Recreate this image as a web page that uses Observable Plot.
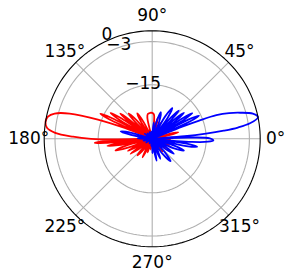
<!DOCTYPE html>
<html>
<head>
<meta charset="utf-8">
<script src="https://cdn.jsdelivr.net/npm/d3@7"></script>
<script src="https://cdn.jsdelivr.net/npm/@observablehq/plot@0.6"></script>
<style>
  html, body { margin: 0; padding: 0; background: #fff; }
  #chart svg { display: block; }
</style>
</head>
<body>
<div id="chart"></div>
<script>
// ---- data: [angle in degrees, level in dB] ----
const redPattern = [
  [0,-40],[2.5,-29],[4.5,-26],[6.5,-29],[9,-40],
  [11.8,-25.5],[14,-22.5],[16.2,-25.5],[20,-40],
  [23,-28],[26,-25],[29,-28],[32,-40],
  [35,-28.5],[37.5,-25.5],[40,-28.5],[43,-40],
  [46.5,-28.5],[49.5,-25.5],[52.5,-28.5],[56,-40],
  [59,-28],[62,-25],[65,-28],[68,-40],
  [71.5,-27],[75,-24],[78.5,-27],[82,-40],
  [84,-25],[86,-23.2],[90,-22.8],[95,-22.8],[100,-23],[103,-24],[106,-40],
  [108.5,-29.5],[110,-27.5],[111.5,-29.5],[114,-40],
  [117.2,-24.8],[120.5,-21.8],[123.8,-24.8],[127,-40],
  [129.9,-23.4],[133,-20.4],[135.6,-23.4],[138.5,-40],
  [140.1,-21.7],[141.7,-18.7],[143.4,-21.7],[145,-40],
  [146.6,-19.4],[148.3,-16.4],[149.9,-19.4],[151.5,-40],
  [152.9,-17],[154.2,-14],[155.6,-17],[157,-40],
  [158.5,-22],[160.5,-14],[163,-6],[165.5,-2],[168,-0.4],[171,0],[174,-0.6],[176.5,-3],[178.5,-8],[180,-13],[181,-19],[182,-40],
  [183,-17],[184,-14],[185,-17],[186,-40],
  [187.5,-20.4],[189,-17.4],[190.5,-20.4],[192,-40],
  [194.6,-22.3],[197.5,-19.3],[199.9,-22.3],[202.5,-40],
  [204.4,-25.5],[206.3,-22.5],[208.1,-25.5],[210,-40],
  [212.5,-25.7],[214.5,-22.7],[217.5,-25.7],[220,-40],
  [224,-26.8],[228.5,-23.8],[232,-26.8],[236,-40],
  [239,-27.2],[242.5,-24.2],[245,-27.2],[248,-40],
  [250,-29],[251.5,-26],[254,-29],[256,-40],
  [259,-29.5],[262,-27],[265,-29.5],[268,-40],
  [276,-40],[278.5,-29.5],[281,-26.5],[283.5,-29.5],[286,-40],
  [289.5,-29.5],[293,-26.5],[296.5,-29.5],[300,-40],
  [304.5,-28.5],[309,-25.5],[313.5,-28.5],[318,-40],
  [321.8,-28.5],[325.5,-25.5],[329.2,-28.5],[333,-40],
  [336.2,-28],[339.5,-25],[342.8,-28],[346,-40],
  [348,-27],[350,-24],[352,-27],[354,-40],
  [355.5,-28],[357,-25],[358.5,-28],[360,-40]
];

const bluePattern = [
  [-6,-40],[-4.5,-19],[-3,-14.5],[-1.5,-13],[0.5,-14],[2,-20],[3.5,-40],
  [4.5,-21],[5.5,-15],[6.5,-10],[7.5,-6],[9,-2.5],[11.5,0],[14,-1.2],[16.5,-4.5],[18.5,-7.5],[20.2,-11],[21.2,-16],[22,-21],[23,-40],
  [24.6,-18.5],[26.3,-15.5],[27.9,-18.5],[29.5,-40],
  [31,-19.8],[32.4,-16.8],[34,-19.8],[35.5,-40],
  [37.4,-21.6],[39.4,-18.6],[41.1,-21.6],[43,-40],
  [44.9,-22.2],[46.7,-19.2],[48.6,-22.2],[50.5,-40],
  [53.6,-22.8],[56.8,-19.8],[59.9,-22.8],[63,-40],
  [67.3,-25.2],[72.3,-22.2],[75.8,-25.2],[80,-40],
  [82.2,-28.5],[84.5,-25.5],[86.8,-28.5],[89,-40],
  [95,-29],[98,-28],[101,-29],[104,-40],
  [110,-29],[113,-28],[116,-29],[120,-40],
  [126,-29],[130,-28],[134,-29],[138,-40],
  [142,-29],[146,-27.5],[150,-29],[154,-40],
  [163.8,-24],[166.8,-21],[169.3,-24],[172,-40],
  [175,-28],[178,-26],[181,-28],[184,-40],
  [188,-29],[192,-27.5],[196,-29],[200,-40],
  [206,-29.5],[212,-28],[218,-29.5],[224,-40],
  [232,-29.5],[240,-28.5],[248,-29.5],[256,-40],
  [259,-29.5],[262,-28],[264,-29.5],[266,-40],
  [268.5,-29],[271,-26],[273.5,-29],[276,-40],
  [278.5,-26.8],[281.5,-23.8],[283.5,-26.8],[286,-40],
  [289.5,-27],[292,-24],[296.5,-27],[300,-40],
  [304.5,-25],[309.5,-22],[313.5,-25],[318,-40],
  [321.8,-25.7],[325.3,-22.7],[329.2,-25.7],[333,-40],
  [336.2,-23.6],[339.7,-20.6],[342.8,-23.6],[346,-40],
  [348,-20.3],[349.8,-17.3],[352,-20.3],[354,-40]
];

const thetaTicks = [0, 45, 90, 135, 180, 225, 270, 315];
const thetaLabels = ["0°", "45°", "90°", "135°", "180°", "225°", "270°", "315°"];
const rTicks = [-15, -3, 0];
const rLabels = ["−15", "−3", "0"];
const rMin = -30, rMax = 0;

// ---- layout constants ----
const rLabelAngle = 116;     // direction of the radial tick labels
const rLabelPad = 2.1;       // dB-units outward
const thetaLabelPad = 4.3;   // dB-units outside the outer ring
const gridColor = "#b0b0b0";
const fontSize = 17;

// polar (angle, dB) -> (longitude, latitude) on an azimuthal projection centred on the pole
const lat = db => 90 - (Math.max(rMin, Math.min(rMax + 5, db)) - rMin);
const ring = r => d3.geoCircle().center([0, 90]).radius(r - rMin).precision(2)();

const chart = Plot.plot({
  width: 291,
  height: 277,
  marginLeft: 43.7,
  marginRight: 31.3,
  marginTop: 30.3,
  marginBottom: 30.7,
  style: {background: "#fff", fontFamily: "DejaVu Sans"},
  projection: {
    type: "azimuthal-equidistant",
    rotate: [90, -90],
    domain: ring(rMax),
    clip: false
  },
  marks: [
    Plot.geo(rTicks.filter(t => t !== rMax), {geometry: ring, stroke: gridColor, strokeWidth: 1.1, fill: "none"}),
    Plot.link(thetaTicks, {x1: d => d, y1: 90, x2: d => d, y2: lat(rMax), stroke: gridColor, strokeWidth: 1.1}),
    Plot.line(redPattern, {x: d => d[0], y: d => lat(d[1]), stroke: "#ff0000", strokeWidth: 1.8, curve: "catmull-rom"}),
    Plot.line(bluePattern, {x: d => d[0], y: d => lat(d[1]), stroke: "#0000ff", strokeWidth: 1.8, curve: "catmull-rom"}),
    Plot.geo([rMax], {geometry: ring, stroke: "#000", strokeWidth: 1.1, fill: "none"}),
    Plot.text(thetaTicks, {x: d => d, y: lat(rMax + thetaLabelPad), text: (d, i) => thetaLabels[i],
      fontSize, fill: "#000", textAnchor: "middle", lineAnchor: "middle"}),
    Plot.text(rTicks, {x: rLabelAngle, y: d => lat(d + rLabelPad), text: (d, i) => rLabels[i],
      fontSize, fill: "#000", textAnchor: "start", lineAnchor: "middle"})
  ]
});

document.getElementById("chart").appendChild(chart);
</script>
</body>
</html>
